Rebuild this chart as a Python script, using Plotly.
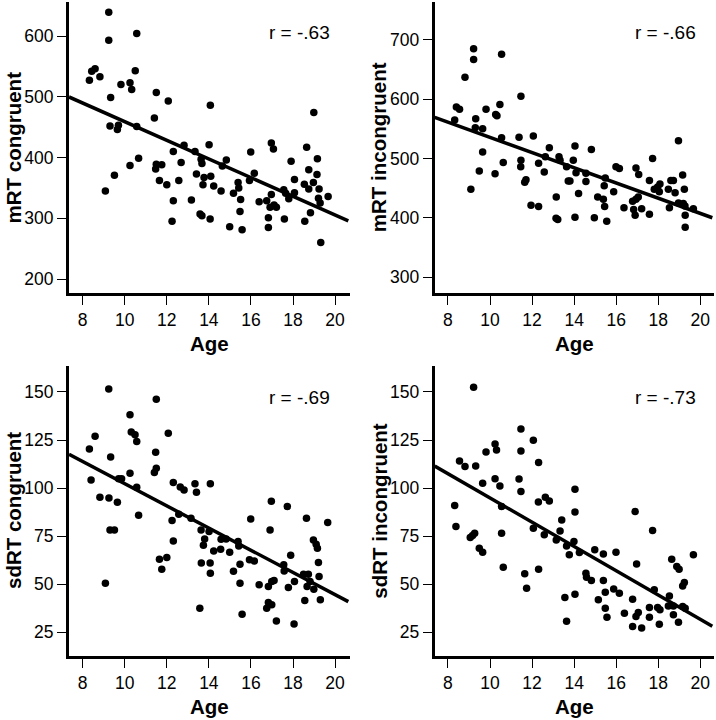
import plotly.graph_objects as go

# ---------------- data ----------------
age_mrt_con = [9.24, 9.24, 10.57, 8.32, 8.43, 8.59, 8.82, 9.33, 9.82, 10.25, 10.33, 10.5, 9.30, 9.65, 9.70,
               10.57, 9.08, 9.51, 10.25, 10.66, 11.5, 11.41, 12.07, 11.5, 11.47, 11.76, 11.65, 12.0, 12.31,
               12.31, 12.25, 12.82, 12.68, 12.57, 13.34, 13.41, 13.17, 13.63, 13.67, 13.58, 13.67, 13.77,
               13.72, 14.01, 14.07, 14.09, 14.23, 14.06, 14.58, 14.64, 14.83, 14.99, 15.17, 15.39, 15.42,
               15.51, 15.48, 15.58, 15.99, 15.93, 16.16, 16.39, 16.75, 16.83, 16.83, 16.97, 17.07, 16.97,
               16.91, 17.1, 17.21, 17.59, 17.56, 17.65, 17.8, 17.91, 18.07, 18.07, 18.54, 18.65, 18.75,
               18.75, 18.83, 18.56, 18.97, 18.99, 19.16, 19.14, 19.24, 19.21, 19.29, 19.32, 19.67]
mrt_con = [639, 593, 604, 527, 542, 546, 533, 499, 520, 523, 512, 543, 452, 446, 453,
           451, 345, 371, 387, 399, 507, 465, 493, 389, 381, 388, 362, 355, 410,
           329, 295, 420, 392, 362, 410, 373, 330, 397, 390, 307, 304, 367,
           355, 421, 486, 369, 353, 299, 345, 386, 396, 286, 341, 359, 350,
           331, 311, 281, 409, 362, 374, 327, 329, 301, 285, 424, 414, 339,
           318, 322, 318, 299, 347, 341, 332, 394, 364, 342, 356, 417, 380,
           348, 309, 295, 359, 474, 398, 372, 348, 333, 325, 260, 336]

age_mrt_inc = [9.22, 9.22, 10.55, 8.81, 8.32, 8.4, 8.55, 9.32, 9.3, 9.65, 9.81, 10.27, 10.33, 10.47, 10.55,
               9.65, 9.49, 9.09, 10.24, 10.63, 11.47, 11.38, 11.47, 11.46, 11.71, 11.65, 12.06, 11.95,
               12.31, 12.31, 12.58, 12.63, 12.82, 13.28, 13.33, 13.15, 13.64, 13.8, 13.72, 13.14, 13.22,
               14.04, 13.96, 14.09, 14.21, 14.04, 14.56, 14.56, 14.82, 14.96, 15.12, 15.39, 15.43, 15.48,
               15.45, 15.55, 15.88, 15.99, 16.15, 16.37, 16.78, 16.83, 16.9, 16.94, 17.07, 16.94, 17.05,
               17.21, 17.58, 17.58, 17.73, 17.81, 17.97, 18.08, 18.05, 18.48, 18.6, 18.72, 18.53, 18.8,
               18.96, 18.96, 19.16, 19.24, 19.19, 19.27, 19.28, 19.28, 19.67]
mrt_inc = [685, 667, 676, 637, 565, 587, 583, 567, 552, 550, 583, 574, 572, 591, 535,
           511, 479, 448, 474, 493, 605, 536, 497, 486, 464, 460, 538, 421,
           419, 492, 477, 503, 518, 503, 497, 435, 486, 462, 462, 399, 397,
           521, 497, 476, 441, 401, 475, 461, 515, 400, 435, 431, 454, 467,
           419, 394, 444, 486, 483, 417, 428, 414, 404, 484, 473, 431, 435,
           415, 463, 406, 500, 448, 452, 457, 444, 448, 463, 463, 417, 442,
           530, 425, 472, 448, 424, 420, 404, 384, 415]

age_sd_con = [9.24, 11.5, 10.25, 8.32, 8.59, 10.31, 10.49, 10.57, 12.07, 11.47, 11.5, 11.41, 9.33, 10.25,
              8.4, 9.71, 9.85, 10.57, 8.82, 9.25, 9.65, 9.3, 9.51, 9.08, 10.66, 12.31, 12.64, 12.82,
              13.34, 13.41, 14.07, 12.25, 12.31, 12.57, 13.15, 11.65, 12.0, 11.76, 13.63, 13.74, 13.8,
              14.01, 13.64, 14.06, 14.07, 13.57, 14.23, 14.56, 14.58, 14.82, 14.99, 15.17, 15.39, 15.42,
              15.48, 15.48, 15.58, 15.99, 15.93, 16.16, 16.39, 16.97, 16.91, 16.75, 16.83, 16.99, 16.83,
              16.99, 17.1, 17.21, 17.56, 17.58, 17.73, 17.89, 17.78, 18.07, 18.05, 18.64, 18.5, 18.73,
              18.67, 18.56, 18.81, 18.97, 19.1, 19.16, 18.99, 19.21, 19.24, 19.3, 19.65]
sd_con = [151.6, 146.2, 138.2, 120.4, 127.0, 129.2, 127.8, 124.2, 128.5, 118.6, 110.3, 108.1, 116.2, 107.7,
          104.2, 104.9, 104.9, 100.4, 95.2, 94.9, 92.6, 78.2, 78.2, 50.5, 85.9, 102.9, 100.6, 99.0,
          102.3, 97.8, 102.3, 83.1, 72.5, 86.4, 84.3, 63.0, 63.9, 57.8, 78.2, 70.3, 73.6,
          77.4, 61.1, 61.1, 55.7, 37.5, 67.3, 68.2, 73.4, 73.6, 66.6, 56.8, 72.2, 69.9,
          60.4, 50.5, 34.4, 84.0, 62.7, 62.1, 49.7, 93.2, 78.2, 37.5, 40.5, 39.3, 48.8,
          51.4, 51.9, 30.9, 60.1, 56.9, 90.4, 65.1, 48.3, 51.4, 29.4, 84.3, 55.2, 55.2,
          48.8, 41.5, 51.4, 73.0, 70.8, 68.7, 47.4, 61.3, 54.0, 41.9, 82.1]

age_sd_inc = [9.22, 11.47, 12.06, 10.24, 10.31, 11.47, 9.81, 8.55, 8.81, 9.32, 12.31, 11.38, 10.24, 10.47,
              9.65, 11.47, 14.04, 8.32, 10.55, 12.63, 12.82, 12.3, 14.04, 8.38, 12.06, 12.58, 13.41,
              13.33, 13.15, 9.27, 9.17, 9.06, 9.49, 9.65, 10.55, 10.63, 13.64, 13.77, 13.99, 14.25,
              12.31, 11.65, 11.74, 13.56, 13.64, 14.04, 14.56, 14.59, 14.82, 14.98, 15.15, 15.39, 15.39,
              15.48, 15.48, 15.56, 15.99, 15.88, 16.15, 16.39, 16.78, 16.9, 16.97, 16.78, 16.94, 17.05,
              17.21, 17.58, 17.58, 17.73, 17.81, 17.97, 18.08, 18.05, 18.53, 18.48, 18.64, 18.72, 18.72,
              18.88, 18.99, 18.96, 19.16, 19.24, 19.16, 19.28, 19.67]
sd_inc = [152.4, 130.8, 124.9, 123.0, 119.8, 119.3, 118.8, 114.1, 111.2, 111.5, 113.3, 104.8, 104.9, 101.1,
          102.5, 98.2, 99.4, 90.9, 90.4, 95.2, 93.3, 92.8, 87.6, 80.0, 79.1, 75.8, 83.4,
          77.7, 73.0, 76.5, 75.3, 74.3, 68.7, 66.6, 76.5, 58.8, 69.9, 65.3, 72.2, 66.5,
          57.8, 55.5, 47.9, 43.1, 30.8, 44.8, 55.7, 53.6, 51.9, 67.9, 41.9, 65.8, 51.9,
          45.8, 37.5, 32.8, 66.6, 47.6, 45.3, 34.9, 42.2, 87.8, 60.6, 28.0, 33.2, 35.3,
          27.3, 32.8, 37.9, 77.9, 47.1, 37.9, 36.7, 29.2, 43.9, 38.7, 63.0, 38.7, 34.1,
          59.2, 57.8, 30.2, 49.1, 50.9, 38.4, 37.5, 65.3]

y_titles = ["mRT congruent", "mRT incongruent", "sdRT congruent", "sdRT incongruent"]
r_labels = ["r = -.63", "r = -.66", "r = -.69", "r = -.73"]
fit_slope = [-15.35, -12.83, -5.77, -6.31]
fit_intercept = [612.5, 663.9, 160.0, 158.0]
x_ticks = [8, 10, 12, 14, 16, 18, 20]
y_ticks = [[200, 300, 400, 500, 600], [300, 400, 500, 600, 700],
           [25, 50, 75, 100, 125, 150], [25, 50, 75, 100, 125, 150]]

# ---------------- layout geometry ----------------
W, H = 716, 720
panels = [
    dict(x=(69, 350), y=(2, 293), xr=[7.35, 20.71], yr=[177, 656]),
    dict(x=(434.7, 714), y=(2, 293), xr=[7.37, 20.65], yr=[273, 764]),
    dict(x=(69, 350), y=(366, 656), xr=[7.35, 20.71], yr=[12.7, 163.5]),
    dict(x=(434.7, 714), y=(366, 656), xr=[7.37, 20.65], yr=[12.7, 163.5]),
]
xs = [age_mrt_con, age_mrt_inc, age_sd_con, age_sd_inc]
ys = [mrt_con, mrt_inc, sd_con, sd_inc]

FONT = "Liberation Sans, Arial, sans-serif"
fig = go.Figure()
annotations = []
layout = {}
for i, p in enumerate(panels):
    n = "" if i == 0 else str(i + 1)
    xa, ya = "x" + n, "y" + n
    fig.add_trace(go.Scatter(x=xs[i], y=ys[i], mode="markers", xaxis=xa, yaxis=ya,
                             marker=dict(color="black", size=7.5), showlegend=False,
                             hoverinfo="skip", cliponaxis=False))
    x0, x1 = p["xr"][0], p["xr"][1] - 0.08
    fig.add_trace(go.Scatter(x=[x0, x1],
                             y=[fit_intercept[i] + fit_slope[i] * x0, fit_intercept[i] + fit_slope[i] * x1],
                             mode="lines", xaxis=xa, yaxis=ya, line=dict(color="black", width=3.5),
                             showlegend=False, hoverinfo="skip"))
    common = dict(showgrid=False, zeroline=False, showline=True, linecolor="black", linewidth=3,
                  ticks="outside", ticklen=9, tickwidth=1.3, tickcolor="black",
                  tickfont=dict(family=FONT, size=17.5, color="black"))
    layout["xaxis" + n] = dict(domain=[p["x"][0] / W, p["x"][1] / W], range=p["xr"],
                               tickvals=x_ticks, anchor=ya, **common)
    layout["yaxis" + n] = dict(domain=[1 - p["y"][1] / H, 1 - p["y"][0] / H], range=p["yr"],
                               tickvals=y_ticks[i], anchor=xa, **common)
    # y axis title
    annotations.append(dict(text="<b>%s</b>" % y_titles[i], xref="paper", yref="paper",
                            x=(p["x"][0] - 56) / W, y=1 - (p["y"][0] + p["y"][1]) / 2 / H,
                            xanchor="center", yanchor="middle", textangle=-90, showarrow=False,
                            font=dict(family=FONT, size=20.5, color="black")))
    # x axis title
    annotations.append(dict(text="<b>Age</b>", xref="paper", yref="paper",
                            x=(p["x"][0] + p["x"][1]) / 2 / W, y=1 - (p["y"][1] + 50) / H,
                            xanchor="center", yanchor="middle", showarrow=False,
                            font=dict(family=FONT, size=20.5, color="black")))
    # r label
    annotations.append(dict(text=r_labels[i], xref="paper", yref="paper",
                            x=(p["x"][0] + 263) / W, y=1 - (p["y"][0] + 31) / H,
                            xanchor="right", yanchor="middle", showarrow=False,
                            font=dict(family=FONT, size=19, color="black")))

fig.update_layout(width=W, height=H, margin=dict(l=0, r=0, t=0, b=0, pad=0),
                  paper_bgcolor="white", plot_bgcolor="white", annotations=annotations, **layout)
fig.write_html("out.html", config={"displayModeBar": False},
               post_script="document.body.style.margin='0';document.body.style.overflow='hidden';")
